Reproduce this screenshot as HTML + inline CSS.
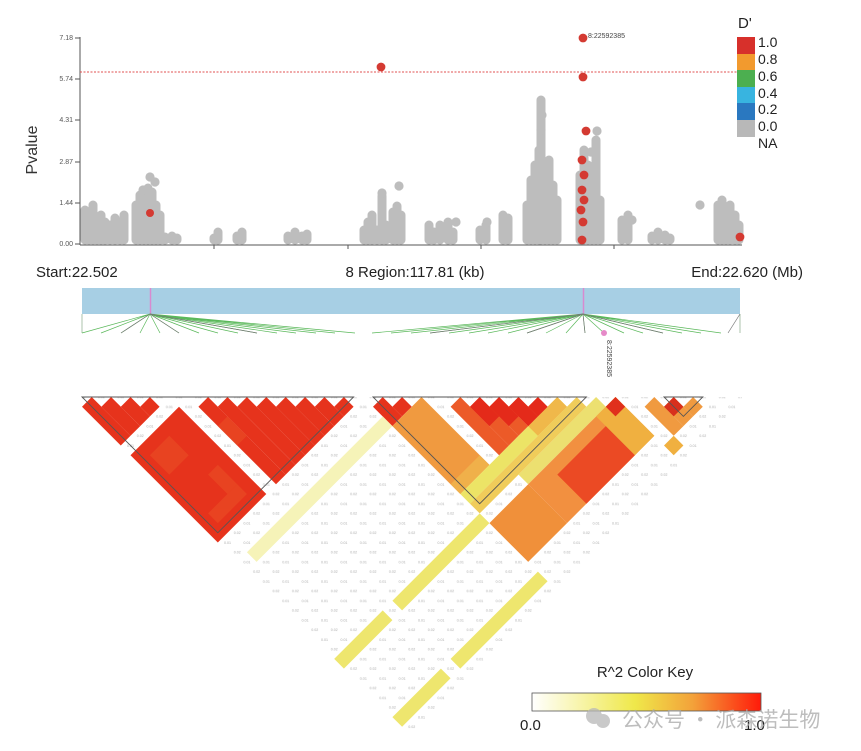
<!DOCTYPE html>
<html><head><meta charset="utf-8"><style>
html,body{margin:0;padding:0;background:#fff;}
svg{display:block;font-family:"Liberation Sans",sans-serif;}
</style></head><body>
<svg width="861" height="751" viewBox="0 0 861 751" xmlns="http://www.w3.org/2000/svg">
<defs>
<linearGradient id="rk" x1="0" x2="1" y1="0" y2="0">
<stop offset="0" stop-color="#ffffff"/><stop offset="0.45" stop-color="#efe84a"/><stop offset="0.7" stop-color="#f3a23a"/><stop offset="1" stop-color="#ff1a0a"/>
</linearGradient>
<pattern id="tx" x="91.7" y="406.7" width="19.4" height="19.4" patternUnits="userSpaceOnUse">
<g font-size="3.6" fill="#aaa" text-anchor="middle">
<text x="0" y="1.3">0.01</text><text x="19.4" y="1.3">0.01</text><text x="0" y="20.7">0.01</text><text x="19.4" y="20.7">0.01</text><text x="9.7" y="11">0.02</text>
</g>
</pattern>
</defs>

<!-- scatter -->
<g stroke="#bdbdbd" stroke-width="9" stroke-linecap="round" fill="none">
<path d="M85 240V210M89 240V225M93 240V205M97 240V230M101 240V215M105 240V222M110 240V225M115 240V218M120 240V230M124 240V215
M136 240V205M140 240V195M144 240V200M148 240V188M152 240V192M156 240V205M160 240V215M165 240V237M172 240V236M177 240V238
M214 240V238M218 240V232M237 240V236M242 240V232M288 240V236M295 240V232M302 240V236M307 240V234
M364 240V230M368 240V222M372 240V215M377 240V230M382 240V196M386 240V225M393 240V212M397 240V206M401 240V215
M429 240V225M434 240V232M440 240V225M448 240V222M453 240V232M480 240V230M486 240V225M503 240V215M508 240V218
M527 240V205M531 240V180M535 240V165M539 240V150M541 240V100M545 240V170M549 240V160M553 240V185M557 240V200
M580 240V175M584 240V150M588 240V165M592 240V180M596 240V140M600 240V200
M622 240V220M628 240V215M652 240V236M658 240V232M665 240V235M670 240V238
M718 240V205M722 240V200M726 240V210M730 240V205M735 240V215M739 240V225"/>
</g>
<g fill="#bdbdbd">
<circle cx="150" cy="177" r="4.6"/><circle cx="155" cy="182" r="4.6"/><circle cx="143" cy="190" r="4.6"/>
<circle cx="382" cy="193" r="4.6"/><circle cx="399" cy="186" r="4.6"/><circle cx="542" cy="115" r="4.6"/><circle cx="541" cy="130" r="4.6"/>
<circle cx="597" cy="131" r="4.6"/><circle cx="591" cy="152" r="4.6"/><circle cx="700" cy="205" r="4.6"/><circle cx="632" cy="220" r="4.6"/>
<circle cx="456" cy="222" r="4.6"/><circle cx="487" cy="222" r="4.6"/>
</g>
<g fill="#d43a32">
<circle cx="150" cy="213" r="4"/><circle cx="740" cy="237" r="4.4"/><circle cx="583" cy="38" r="4.4"/><circle cx="381" cy="67" r="4.4"/>
<circle cx="583" cy="77" r="4.4"/><circle cx="586" cy="131" r="4.4"/><circle cx="582" cy="160" r="4.4"/><circle cx="584" cy="175" r="4.4"/>
<circle cx="582" cy="190" r="4.4"/><circle cx="581" cy="210" r="4.4"/><circle cx="583" cy="222" r="4.4"/><circle cx="582" cy="240" r="4.4"/><circle cx="584" cy="200" r="4.4"/>
</g>

<!-- axes -->
<line x1="80" y1="37" x2="80" y2="245" stroke="#555" stroke-width="1"/>
<line x1="80" y1="245" x2="742" y2="245" stroke="#555" stroke-width="1"/>
<g stroke="#555" stroke-width="1">
<line x1="75" y1="38" x2="80" y2="38"/><line x1="75" y1="79" x2="80" y2="79"/><line x1="75" y1="120" x2="80" y2="120"/>
<line x1="75" y1="162" x2="80" y2="162"/><line x1="75" y1="203" x2="80" y2="203"/><line x1="75" y1="244" x2="80" y2="244"/>
<line x1="214" y1="245" x2="214" y2="249"/><line x1="348" y1="245" x2="348" y2="249"/><line x1="481" y1="245" x2="481" y2="249"/><line x1="614" y1="245" x2="614" y2="249"/>
</g>
<g font-size="7" fill="#555" text-anchor="end">
<text x="73" y="40">7.18</text><text x="73" y="81">5.74</text><text x="73" y="122">4.31</text>
<text x="73" y="164">2.87</text><text x="73" y="205">1.44</text><text x="73" y="246">0.00</text>
</g>
<text x="0" y="0" font-size="16" fill="#333" transform="translate(37,150) rotate(-90)" text-anchor="middle">Pvalue</text>
<line x1="80" y1="72" x2="742" y2="72" stroke="#e05050" stroke-width="1" stroke-dasharray="2,1.5"/>

<!-- legend -->
<text x="738" y="28" font-size="15" fill="#222">D'</text>
<rect x="737" y="37" width="18" height="17" fill="#d7302b"/>
<rect x="737" y="54" width="18" height="16" fill="#f29a2e"/>
<rect x="737" y="70" width="18" height="17" fill="#4caf50"/>
<rect x="737" y="87" width="18" height="16" fill="#38b4e0"/>
<rect x="737" y="103" width="18" height="17" fill="#2a78c0"/>
<rect x="737" y="120" width="18" height="17" fill="#b8b8b8"/>
<g font-size="14" fill="#222">
<text x="758" y="47">1.0</text><text x="758" y="64">0.8</text><text x="758" y="81">0.6</text><text x="758" y="98">0.4</text>
<text x="758" y="114">0.2</text><text x="758" y="131">0.0</text><text x="758" y="148">NA</text>
</g>
<text x="588" y="38" font-size="7" fill="#444">8:22592385</text>

<!-- region -->
<g font-size="15" fill="#222">
<text x="36" y="277">Start:22.502</text>
<text x="415" y="277" text-anchor="middle">8 Region:117.81 (kb)</text>
<text x="803" y="277" text-anchor="end">End:22.620 (Mb)</text>
</g>
<rect x="82" y="288" width="658" height="26" fill="#a7cfe4"/>
<line x1="150.5" y1="288" x2="150.5" y2="314" stroke="#d88ad0" stroke-width="1.5"/>
<line x1="583.5" y1="288" x2="583.5" y2="314" stroke="#d88ad0" stroke-width="1.5"/>
<g stroke-width="0.7">
<line x1="82" y1="314" x2="82" y2="333" stroke="#8a8"/>
<line x1="740" y1="314" x2="740" y2="333" stroke="#8a8"/>
<line x1="728" y1="333" x2="740" y2="314" stroke="#777"/>
<g stroke="#5ab85a">
<path d="M150 314L82 333M150 314L101 333M150 314L121 333M150 314L140 333M150 314L160 333M150 314L179 333M150 314L199 333M150 314L218 333M150 314L238 333M150 314L257 333M150 314L277 333M150 314L296 333M150 314L316 333M150 314L335 333M150 314L355 333"/>
<path d="M583 314L372 333M583 314L391 333M583 314L411 333M583 314L430 333M583 314L449 333M583 314L469 333M583 314L488 333M583 314L508 333M583 314L527 333M583 314L546 333M583 314L566 333M583 314L585 333M583 314L604 333M583 314L624 333M583 314L643 333M583 314L663 333M583 314L682 333M583 314L701 333M583 314L721 333"/>
</g>
<path d="M150 314L121 333M150 314L179 333M150 314L257 333M583 314L430 333M583 314L527 333M583 314L585 333M583 314L663 333" stroke="#777"/>
</g>
<circle cx="604" cy="333" r="3" fill="#e58ac8"/>
<text x="0" y="0" font-size="7" fill="#444" transform="translate(607,340) rotate(90)">8:22592385</text>

<!-- LD -->
<polygon points="82,397 742,397 742,406.7 412,736.7 82,406.7" fill="url(#tx)"/>
<g transform="matrix(9.7,9.7,9.7,-9.7,82,397)">
<g fill="#e6331c">
<rect x="0.5" y="-0.5" width="4" height="1"/><rect x="1.5" y="0.5" width="3" height="1"/><rect x="2.5" y="1.5" width="2" height="1"/><rect x="3.5" y="2.5" width="1" height="1"/>
<rect x="5.5" y="-0.5" width="9" height="5"/>
<rect x="6.5" y="5.5" width="8" height="1"/><rect x="7.5" y="6.5" width="7" height="1"/><rect x="8.5" y="7.5" width="6" height="1"/><rect x="9.5" y="8.5" width="5" height="1"/>
<rect x="10.5" y="9.5" width="4" height="1"/><rect x="11.5" y="10.5" width="3" height="1"/><rect x="12.5" y="11.5" width="2" height="1"/><rect x="13.5" y="12.5" width="1" height="1"/>
<rect x="15.5" y="14.5" width="2" height="1"/><rect x="16.5" y="15.5" width="1" height="1"/>
</g>
<g fill="#ea4a24" opacity="0.7">
<rect x="6.5" y="0.5" width="2" height="2"/><rect x="10.5" y="2.5" width="2" height="1"/><rect x="12.5" y="0.5" width="1" height="3"/><rect x="8.5" y="5.5" width="2" height="1"/>
</g>
<rect x="17.5" y="14.5" width="7" height="3" fill="#f09a40"/>
<rect x="23.5" y="14.5" width="1" height="3" fill="#f0b04a"/>
<rect x="24.5" y="14.5" width="1" height="10" fill="#ece466"/>
<rect x="24.5" y="21.5" width="1" height="3" fill="#f0b84a"/>
<rect x="25.5" y="14.5" width="1" height="11" fill="#f0cc5a"/>
<g fill="#ec5a28">
<rect x="19.5" y="18.5" width="5" height="1"/><rect x="20.5" y="19.5" width="4" height="1"/><rect x="21.5" y="20.5" width="3" height="1"/><rect x="22.5" y="21.5" width="2" height="1"/><rect x="23.5" y="22.5" width="1" height="1"/>
</g>
<g fill="#e42a1a">
<rect x="20.5" y="19.5" width="2" height="1"/><rect x="21.5" y="20.5" width="2" height="1"/><rect x="22.5" y="21.5" width="2" height="1"/><rect x="23.5" y="22.5" width="1" height="1"/>
</g>
<rect x="26.5" y="18.5" width="1" height="8" fill="#ece070"/>
<rect x="27.5" y="18.5" width="4" height="9" fill="#f29040"/>
<rect x="27.5" y="25.5" width="4" height="2" fill="#f0b040"/>
<rect x="28.5" y="20.5" width="3" height="5" fill="#eb4a24"/>
<rect x="27.5" y="26.5" width="1" height="1" fill="#e0301c"/>
<rect x="27.5" y="14.5" width="4" height="4" fill="#f0903a"/>
<g fill="#f09a40">
<rect x="29.5" y="28.5" width="3" height="1"/><rect x="30.5" y="29.5" width="2" height="1"/><rect x="31.5" y="30.5" width="1" height="1"/>
</g>
<rect x="30.5" y="29.5" width="1" height="1" fill="#d8301c"/>
<rect x="32.5" y="27.5" width="1" height="1" fill="#f0b040"/>
<rect x="16.5" y="0.5" width="1" height="14" fill="#f6f3b8"/>
<g fill="#eee66e">
<rect x="26.5" y="-0.5" width="1" height="5"/><rect x="26.5" y="5.5" width="1" height="9"/>
<rect x="32.5" y="-0.5" width="1" height="5"/><rect x="32.5" y="5.5" width="1" height="9"/>
</g>
</g>
<g fill="none" stroke="#555" stroke-width="0.9">
<polygon points="82,397 353.6,397 217.8,532.8"/>
<polygon points="373,397 586.4,397 479.7,503.7"/>
<polygon points="664,397 702.8,397 683.4,416.4"/>
</g>

<!-- color key -->
<text x="645" y="677" font-size="15" fill="#222" text-anchor="middle">R^2 Color Key</text>
<rect x="532" y="693" width="229" height="18" fill="url(#rk)" stroke="#555" stroke-width="0.8"/>
<text x="520" y="730" font-size="15" fill="#222">0.0</text>
<text x="744" y="730" font-size="15" fill="#222">1.0</text>
<g opacity="0.75">
<circle cx="594" cy="716" r="8" fill="#b8b8b8"/><circle cx="603" cy="721" r="7" fill="#b8b8b8"/>
<text x="622" y="727" font-size="21" fill="#a8a8a8" font-family="'Noto Sans CJK SC',sans-serif">公众号 · 派森诺生物</text>
</g>
</svg>
</body></html>
